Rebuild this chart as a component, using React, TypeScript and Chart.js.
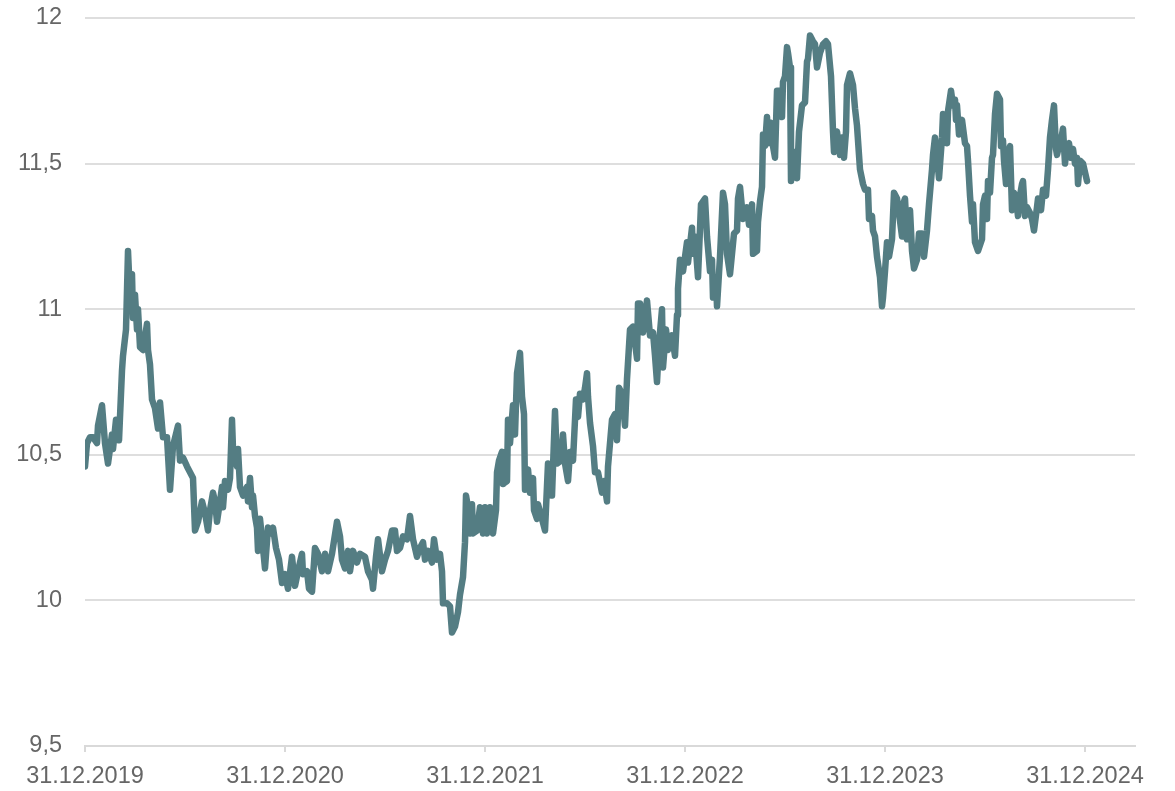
import React, { useEffect, useRef } from "react";
import { Chart, registerables } from "chart.js";

Chart.register(...registerables);

// x position in years after 31.12.2019
const offsetYears: number[] = [
  0, 0.01, 0.025, 0.04, 0.06, 0.065, 0.085, 0.1, 0.115, 0.135, 0.14, 0.155, 0.17, 0.185, 0.19, 0.205, 0.215, 0.225, 0.235, 0.24,
  0.25, 0.26, 0.265, 0.275, 0.29, 0.31, 0.315, 0.325, 0.335, 0.35, 0.365, 0.375, 0.39, 0.41, 0.425, 0.44, 0.465, 0.475, 0.49, 0.51,
  0.525, 0.54, 0.55, 0.565, 0.585, 0.6, 0.615, 0.625, 0.64, 0.65, 0.66, 0.675, 0.685, 0.69, 0.7, 0.715, 0.725, 0.735, 0.74, 0.76,
  0.765, 0.775, 0.79, 0.81, 0.815, 0.825, 0.835, 0.84, 0.85, 0.86, 0.865, 0.875, 0.89, 0.9, 0.915, 0.935, 0.94, 0.955, 0.97, 0.985,
  1.0, 1.015, 1.035, 1.05, 1.065, 1.085, 1.09, 1.11, 1.12, 1.135, 1.15, 1.165, 1.185, 1.2, 1.215, 1.235, 1.26, 1.275, 1.285, 1.3,
  1.315, 1.325, 1.34, 1.36, 1.375, 1.4, 1.415, 1.435, 1.44, 1.455, 1.465, 1.485, 1.5, 1.515, 1.535, 1.55, 1.56, 1.575, 1.59, 1.61,
  1.625, 1.64, 1.66, 1.675, 1.69, 1.7, 1.715, 1.735, 1.745, 1.76, 1.775, 1.785, 1.79, 1.81, 1.825, 1.835, 1.85, 1.865, 1.875, 1.89,
  1.9, 1.905, 1.915, 1.925, 1.935, 1.94, 1.96, 1.975, 1.99, 2.0, 2.01, 2.025, 2.04, 2.055, 2.06, 2.07, 2.085, 2.09, 2.11, 2.115,
  2.125, 2.14, 2.15, 2.16, 2.175, 2.185, 2.195, 2.2, 2.215, 2.225, 2.24, 2.245, 2.26, 2.265, 2.285, 2.3, 2.315, 2.335, 2.35, 2.36,
  2.38, 2.39, 2.4, 2.415, 2.425, 2.44, 2.455, 2.465, 2.475, 2.49, 2.5, 2.51, 2.515, 2.525, 2.54, 2.55, 2.565, 2.585, 2.595, 2.61,
  2.615, 2.635, 2.65, 2.66, 2.67, 2.685, 2.7, 2.71, 2.725, 2.74, 2.76, 2.765, 2.775, 2.79, 2.81, 2.825, 2.84, 2.85, 2.86, 2.87,
  2.885, 2.89, 2.905, 2.915, 2.935, 2.95, 2.96, 2.965, 2.975, 2.99, 3.01, 3.015, 3.035, 3.04, 3.05, 3.065, 3.08, 3.1, 3.11, 3.125,
  3.135, 3.14, 3.155, 3.16, 3.175, 3.19, 3.2, 3.21, 3.225, 3.235, 3.245, 3.26, 3.265, 3.275, 3.29, 3.31, 3.32, 3.335, 3.34, 3.36,
  3.365, 3.375, 3.385, 3.39, 3.4, 3.41, 3.415, 3.43, 3.44, 3.45, 3.46, 3.47, 3.485, 3.49, 3.5, 3.51, 3.515, 3.525, 3.53, 3.54,
  3.55, 3.56, 3.57, 3.585, 3.6, 3.61, 3.615, 3.625, 3.64, 3.65, 3.66, 3.675, 3.69, 3.705, 3.715, 3.73, 3.74, 3.745, 3.76, 3.775,
  3.785, 3.795, 3.805, 3.81, 3.825, 3.84, 3.85, 3.86, 3.875, 3.89, 3.9, 3.915, 3.92, 3.935, 3.94, 3.95, 3.96, 3.975, 3.985, 3.99,
  4.0, 4.01, 4.02, 4.035, 4.045, 4.06, 4.07, 4.085, 4.09, 4.1, 4.11, 4.115, 4.125, 4.135, 4.145, 4.16, 4.17, 4.185, 4.195, 4.21,
  4.22, 4.235, 4.24, 4.25, 4.26, 4.27, 4.285, 4.29, 4.3, 4.31, 4.315, 4.33, 4.34, 4.35, 4.355, 4.36, 4.37, 4.385, 4.4, 4.41,
  4.415, 4.425, 4.435, 4.44, 4.45, 4.465, 4.485, 4.49, 4.5, 4.51, 4.515, 4.525, 4.535, 4.54, 4.55, 4.56, 4.575, 4.58, 4.59, 4.595,
  4.605, 4.615, 4.625, 4.635, 4.645, 4.655, 4.665, 4.675, 4.685, 4.69, 4.7, 4.71, 4.725, 4.735, 4.745, 4.76, 4.765, 4.78, 4.79, 4.805,
  4.815, 4.825, 4.835, 4.845, 4.855, 4.86, 4.87, 4.885, 4.89, 4.9, 4.91, 4.92, 4.93, 4.94, 4.95, 4.96, 4.965, 4.975, 4.99, 5.0,
  5.01,
];

const rates: number[] = [
  10.46, 10.54, 10.56, 10.56, 10.54, 10.6, 10.67, 10.54, 10.47, 10.57, 10.52, 10.62, 10.55, 10.79, 10.84, 10.93, 11.2, 11.04, 11.12, 10.97,
  11.05, 10.93, 11.0, 10.87, 10.86, 10.95, 10.86, 10.81, 10.69, 10.66, 10.59, 10.68, 10.56, 10.56, 10.38, 10.53, 10.6, 10.48, 10.49, 10.46,
  10.44, 10.42, 10.24, 10.27, 10.34, 10.3, 10.24, 10.31, 10.37, 10.34, 10.27, 10.34, 10.39, 10.32, 10.41, 10.38, 10.42, 10.62, 10.52, 10.46,
  10.52, 10.39, 10.36, 10.39, 10.34, 10.42, 10.32, 10.36, 10.29, 10.25, 10.17, 10.28, 10.18, 10.11, 10.25, 10.23, 10.25, 10.18, 10.14, 10.06,
  10.09, 10.04, 10.15, 10.05, 10.1, 10.16, 10.09, 10.1, 10.04, 10.03, 10.18, 10.16, 10.1, 10.16, 10.1, 10.16, 10.27, 10.22, 10.14, 10.11,
  10.17, 10.1, 10.17, 10.13, 10.16, 10.15, 10.1, 10.07, 10.04, 10.15, 10.21, 10.1, 10.14, 10.17, 10.24, 10.24, 10.17, 10.18, 10.22, 10.21,
  10.29, 10.21, 10.15, 10.18, 10.2, 10.14, 10.17, 10.13, 10.21, 10.14, 10.16, 10.1, 9.99, 9.99, 9.98, 9.89, 9.91, 9.96, 10.02, 10.08,
  10.2, 10.36, 10.32, 10.23, 10.33, 10.23, 10.24, 10.32, 10.23, 10.32, 10.23, 10.32, 10.23, 10.31, 10.44, 10.48, 10.51, 10.4, 10.41, 10.62,
  10.54, 10.67, 10.57, 10.78, 10.85, 10.7, 10.64, 10.38, 10.45, 10.37, 10.42, 10.31, 10.28, 10.33, 10.28, 10.24, 10.47, 10.36, 10.65, 10.47,
  10.48, 10.57, 10.47, 10.41, 10.51, 10.48, 10.69, 10.63, 10.71, 10.69, 10.73, 10.78, 10.7, 10.61, 10.53, 10.44, 10.44, 10.37, 10.41, 10.34,
  10.46, 10.62, 10.64, 10.55, 10.73, 10.71, 10.6, 10.76, 10.93, 10.94, 10.83, 11.02, 11.02, 10.92, 11.03, 10.91, 10.92, 10.84, 10.75, 10.88,
  11.0, 10.8, 10.93, 10.86, 10.91, 10.84, 10.98, 11.07, 11.17, 11.13, 11.23, 11.16, 11.28, 11.19, 11.25, 11.11, 11.36, 11.38, 11.25, 11.13,
  11.17, 11.04, 11.1, 11.01, 11.18, 11.4, 11.36, 11.19, 11.12, 11.19, 11.26, 11.27, 11.38, 11.42, 11.31, 11.35, 11.29, 11.36, 11.19, 11.2,
  11.3, 11.37, 11.42, 11.6, 11.56, 11.66, 11.57, 11.64, 11.56, 11.52, 11.75, 11.75, 11.66, 11.78, 11.8, 11.9, 11.88, 11.83, 11.44, 11.47,
  11.54, 11.45, 11.61, 11.7, 11.71, 11.85, 11.86, 11.94, 11.92, 11.91, 11.83, 11.88, 11.91, 11.92, 11.91, 11.8, 11.61, 11.54, 11.61, 11.53,
  11.59, 11.52, 11.61, 11.77, 11.81, 11.77, 11.69, 11.63, 11.48, 11.43, 11.41, 11.41, 11.31, 11.32, 11.27, 11.25, 11.18, 11.11, 11.01, 11.04,
  11.13, 11.23, 11.18, 11.24, 11.4, 11.38, 11.33, 11.25, 11.36, 11.38, 11.24, 11.31, 11.34, 11.2, 11.14, 11.17, 11.26, 11.26, 11.18, 11.27,
  11.36, 11.48, 11.53, 11.59, 11.52, 11.45, 11.59, 11.67, 11.66, 11.57, 11.68, 11.75, 11.7, 11.72, 11.65, 11.7, 11.6, 11.65, 11.57, 11.56,
  11.51, 11.39, 11.3, 11.36, 11.23, 11.2, 11.24, 11.36, 11.39, 11.31, 11.44, 11.4, 11.52, 11.53, 11.67, 11.74, 11.72, 11.56, 11.58, 11.51,
  11.43, 11.53, 11.56, 11.34, 11.4, 11.38, 11.32, 11.39, 11.43, 11.44, 11.32, 11.35, 11.33, 11.31, 11.27, 11.35, 11.38, 11.34, 11.41, 11.39,
  11.48, 11.59, 11.65, 11.7, 11.55, 11.53, 11.56, 11.6, 11.62, 11.5, 11.56, 11.57, 11.52, 11.55, 11.5, 11.52, 11.43, 11.51, 11.5, 11.47,
  11.44,
];

const xTickYears: number[] = [0, 1, 2, 3, 4, 5];
const xTickLabels: string[] = ["31.12.2019", "31.12.2020", "31.12.2021", "31.12.2022", "31.12.2023", "31.12.2024"];

const FONT = "'Liberation Sans', Arial, sans-serif";

export default function App() {
  const canvasRef = useRef<HTMLCanvasElement | null>(null);

  useEffect(() => {
    const canvas = canvasRef.current;
    if (!canvas) return;
    const points = offsetYears.map((t, i) => ({ x: t, y: rates[i] }));
    const chart = new Chart(canvas, {
      type: "line",
      data: {
        datasets: [
          {
            data: points,
            borderColor: "#547d83",
            borderWidth: 6.5,
            pointRadius: 0,
            tension: 0,
            borderJoinStyle: "round",
            borderCapStyle: "round",
            fill: false,
          },
        ],
      },
      options: {
        animation: false,
        responsive: false,
        maintainAspectRatio: false,
        layout: { padding: { top: 18, right: 40, bottom: 0, left: 0 } },
        plugins: { legend: { display: false }, tooltip: { enabled: false } },
        scales: {
          x: {
            type: "linear",
            min: 0,
            max: 5.25,
            afterBuildTicks: (scale: any) => {
              scale.ticks = xTickYears.map((v) => ({ value: v }));
            },
            afterFit: (scale: any) => {
              scale.height = 45;
            },
            ticks: {
              callback: (v: any) => {
                const i = xTickYears.indexOf(Number(v));
                return i >= 0 ? xTickLabels[i] : "";
              },
              color: "#666666",
              font: { family: FONT, size: 23.5 },
              padding: 10,
              maxRotation: 0,
              autoSkip: false,
            },
            grid: {
              drawOnChartArea: false,
              drawTicks: true,
              tickLength: 6,
              color: "#d9d9d9",
              lineWidth: 2,
            },
            border: { display: true, color: "#d9d9d9", width: 2 },
          },
          y: {
            min: 9.5,
            max: 12,
            afterFit: (scale: any) => {
              scale.width = 85;
            },
            ticks: {
              stepSize: 0.5,
              callback: (v: any) => String(Number(v)).replace(".", ","),
              color: "#666666",
              font: { family: FONT, size: 23.5 },
              padding: 0,
            },
            grid: {
              drawTicks: true,
              tickLength: 23,
              tickColor: "rgba(0,0,0,0)",
              color: "#dedede",
              lineWidth: 2,
            },
            border: { display: false },
          },
        },
      },
    });
    return () => chart.destroy();
  }, []);

  return (
    <div style={{ position: "absolute", left: 0, top: 0, width: 1175, height: 791 }}>
      <canvas ref={canvasRef} width={1175} height={791} style={{ width: 1175, height: 791 }} />
    </div>
  );
}
